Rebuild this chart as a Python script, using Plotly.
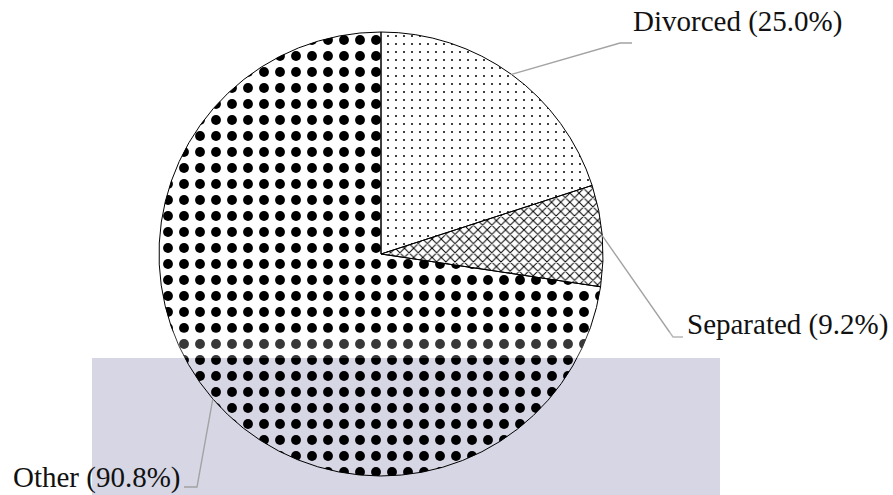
import math
import plotly.graph_objects as go

# Marital status breakdown
labels = ["Divorced", "Separated", "Other"]
percent_text = ["25.0%", "9.2%", "90.8%"]
values = [25.0, 9.2, 90.8]

# Fill pattern for each slice
pattern_shapes = [".", "x", "."]
pattern_sizes = [8, 6.5, 16]
pattern_solidity = [0.05, 0.28, 0.30]

W, H = 893, 495
CX, CY, R = 381, 254, 222  # pie centre and radius in px

# Outside label placement: leader elbow, tick end, text anchor (px)
label_layout = {
    "Divorced": dict(elbow=(620, 43), end=(632, 43), text=(631, 21), anchor="left"),
    "Separated": dict(elbow=(673, 337), end=(683, 337), text=(685, 324), anchor="left"),
    "Other": dict(elbow=(197, 487), end=(184, 487), text=(183, 477), anchor="right"),
}

FONT = "Liberation Serif, Times New Roman, serif"


def px_to_paper(x, y):
    return x / W, 1 - y / H


fig = go.Figure(
    go.Pie(
        labels=labels,
        values=values,
        sort=False,
        direction="clockwise",
        rotation=0,
        textinfo="none",
        hoverinfo="label+value",
        marker=dict(
            colors=["white"] * len(values),
            line=dict(color="black", width=1),
            pattern=dict(
                shape=pattern_shapes,
                size=pattern_sizes,
                solidity=pattern_solidity,
                fgcolor=["black"] * len(values),
                bgcolor=["rgba(0,0,0,0)"] * len(values),
                fillmode="replace",
            ),
        ),
        domain=dict(
            x=[(CX - R) / W, (CX + R) / W],
            y=[1 - (CY + R) / H, 1 - (CY - R) / H],
        ),
        showlegend=False,
    )
)

shapes = []
annotations = []

# Leader lines start at the rim, at each slice's mid-angle
total = sum(values)
start = 0.0
for lab, pct, v in zip(labels, percent_text, values):
    frac = v / total
    mid = (start + frac / 2) * 2 * math.pi
    start += frac
    ex = CX + R * math.sin(mid)
    ey = CY - R * math.cos(mid)
    cfg = label_layout[lab]
    pts = [(ex, ey), cfg["elbow"], cfg["end"]]
    path = ""
    for i, (x, y) in enumerate(pts):
        px, py = px_to_paper(x, y)
        path += ("M" if i == 0 else "L") + f"{px:.5f},{py:.5f} "
    shapes.append(dict(type="path", xref="paper", yref="paper", path=path.strip(),
                       line=dict(color="#a3a3a3", width=1.4), layer="above"))
    tx, ty = px_to_paper(*cfg["text"])
    annotations.append(dict(
        x=tx, y=ty, xref="paper", yref="paper", text=f"{lab} ({pct})",
        showarrow=False, xanchor=cfg["anchor"], yanchor="middle",
        font=dict(family=FONT, size=29, color="#111111"),
    ))

# Background band behind the lower part of the chart
bx0, by0 = px_to_paper(92, 358)
bx1, by1 = px_to_paper(720, 495)
shapes.append(dict(type="rect", xref="paper", yref="paper", x0=bx0, y0=by1, x1=bx1, y1=by0,
                   fillcolor="#d6d6e4", line=dict(width=0), layer="below"))
hx0, hy0 = px_to_paper(92, 332)
hx1, hy1 = px_to_paper(720, 358)
shapes.append(dict(type="rect", xref="paper", yref="paper", x0=hx0, y0=hy1, x1=hx1, y1=hy0,
                   fillcolor="rgba(255,255,255,0.22)", line=dict(width=0), layer="above"))

fig.update_layout(
    width=W,
    height=H,
    margin=dict(l=0, r=0, t=0, b=0),
    paper_bgcolor="white",
    plot_bgcolor="white",
    shapes=shapes,
    annotations=annotations,
)

fig.write_html("out.html")
